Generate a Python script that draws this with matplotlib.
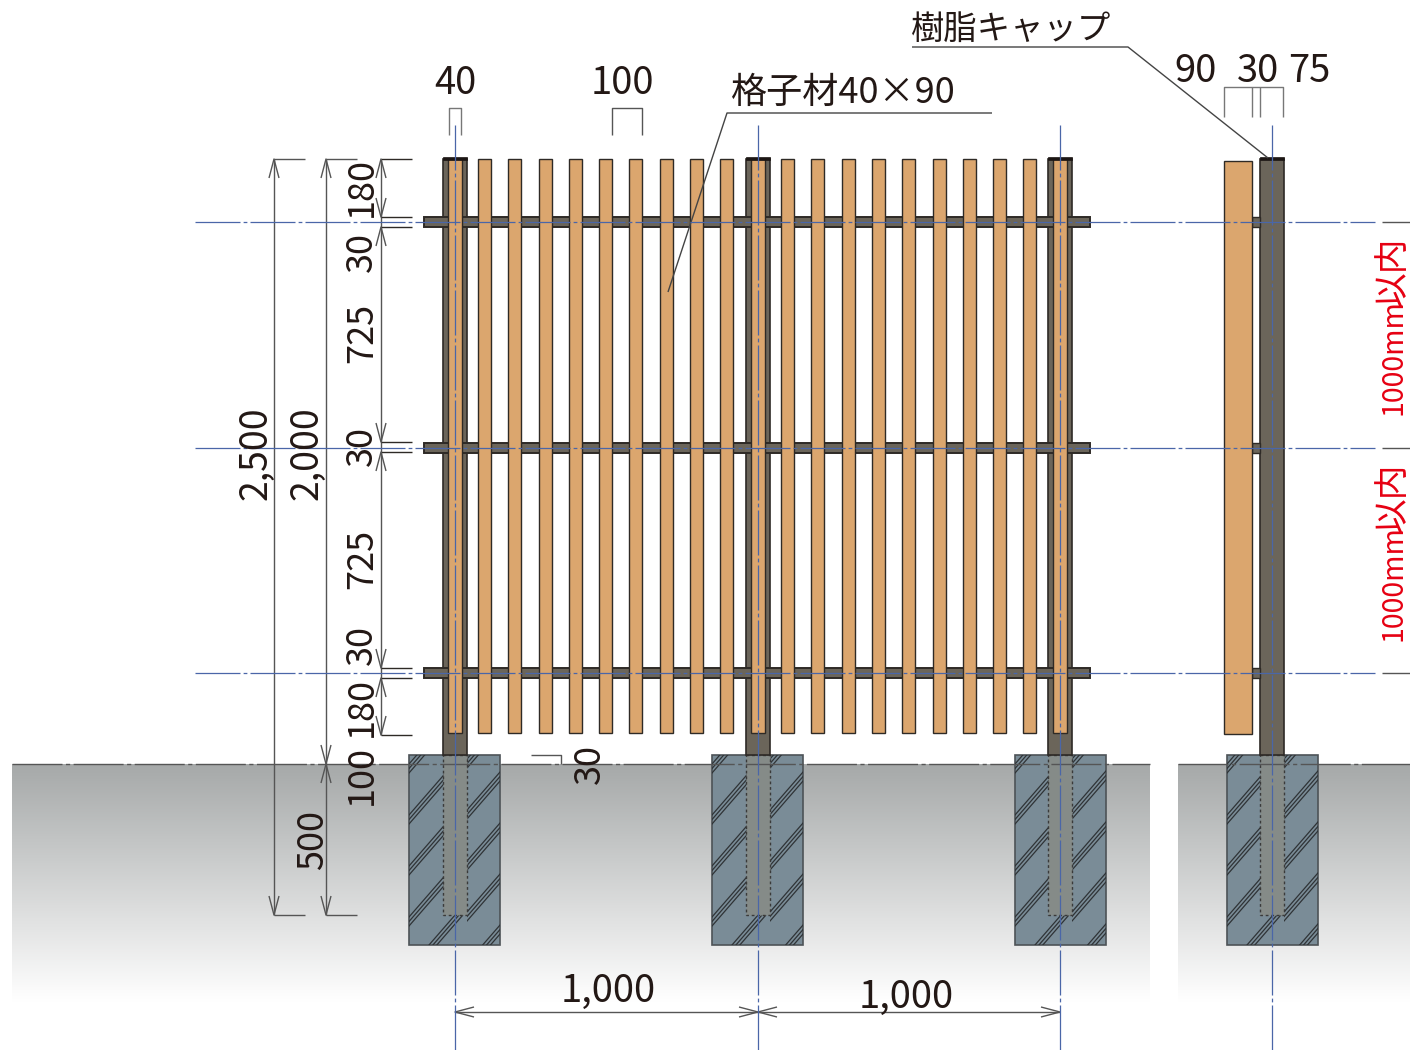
import numpy as np
import matplotlib
matplotlib.use("Agg")
from matplotlib import pyplot as plt
from matplotlib.colors import LinearSegmentedColormap
from matplotlib.patches import Rectangle

plt.rcParams['font.family'] = ['Liberation Sans Narrow', 'Noto Sans CJK JP', 'DejaVu Sans']

# drawing values in pixels
post_centres = [455, 758, 1060]
side_post_centre = 1272
rail_levels = [222, 447.5, 673]
slat_lefts = [478, 508, 539, 569, 599, 629, 660, 690, 720,
              781, 811, 842, 872, 902, 933, 963, 993, 1023]
footing_lefts = [409, 712, 1015, 1227]
tick_levels = [159, 217, 227, 442, 452, 668, 678, 735]
tick_dirs = [-1, 1, -1, 1, -1, 1, -1, 1]
rot_labels = ["180", "30", "725", "30", "725", "30", "180", "100", "2,500", "2,000", "500", "30"]
rot_label_x = [362, 362, 362, 362, 362, 362, 362, 362, 256, 307, 313, 590]
rot_label_y = [187, 252, 333, 446, 559, 645, 707, 775, 453, 453, 840, 764]
rot_label_size = [26, 26, 26, 26, 26, 26, 26, 26, 27, 27, 26, 26]
top_labels = ["40", "100", "90", "30", "75", "1,000", "1,000"]
top_label_x = [455, 622, 1196, 1258, 1309, 608, 906]
top_label_y = [84, 84, 72, 72, 72, 991, 997]

POST = "#6b655a"
DARK = "#2e2a26"
WOOD = "#dba66e"
BLUE = "#4a66a8"
GREY = "#555555"
FOOT = "#7a8c97"
RED = "#e60012"
CHAIN = (36, 2.5, 3, 2.5)

fig = plt.figure(figsize=(14.1, 10.5), dpi=100)
ax = fig.add_axes([0, 0, 1, 1])
ax.set_xlim(0, 1410)
ax.set_ylim(1050, 0)
ax.axis("off")


def box(x0, y0, x1, y1, color, edge=DARK, lw=1.0, z=2, **kw):
    ax.add_patch(Rectangle((x0, y0), x1 - x0, y1 - y0, facecolor=color,
                           edgecolor=edge, linewidth=lw, zorder=z, **kw))


def line(xs, ys, color=GREY, lw=1.0, z=6, **kw):
    ax.plot(xs, ys, color=color, linewidth=lw, zorder=z, solid_capstyle="butt", **kw)


def v_arrow(x, tip, d):
    # d = 1 the body lies above the tip, d = -1 below
    line([x - 5, x, x + 5], [tip - d * 19, tip, tip - d * 19])


def h_arrow(y, tip, d):
    line([tip - d * 19, tip, tip - d * 19], [y - 5, y, y + 5])


def centre_v(x, y0, y1):
    line([x, x], [y0, y1], color=BLUE, lw=0.9, z=9, dashes=CHAIN)


def centre_h(y, x0, x1):
    line([x0, x1], [y, y], color=BLUE, lw=0.9, z=9, dashes=CHAIN)


def hatch(x0, x1, left, intercept, clip):
    # groups of three lines, rising to the right
    for k in range(-3, 8):
        for off in (0, 4.5, 9):
            xs = np.array([x0, x1])
            ys = intercept + 51 * k + off - 1.15 * (xs - left)
            ln, = ax.plot(xs, ys, color="#2f3336", linewidth=0.9, zorder=1.5)
            ln.set_clip_path(clip)


# ground
ramp = LinearSegmentedColormap.from_list("ground", ["#a6a9a9", "#ffffff"])
shade = np.linspace(0, 1, 240).reshape(-1, 1)
for x0, x1 in [(12, 1150), (1178, 1410)]:
    ax.imshow(shade, cmap=ramp, extent=(x0, x1, 1002, 764), aspect="auto", zorder=0)
ax.set_xlim(0, 1410)
ax.set_ylim(1050, 0)

# footings with triple hatch lines
for left, centre in zip(footing_lefts, post_centres + [side_post_centre]):
    r = Rectangle((left, 755), 91, 190, facecolor=FOOT, edgecolor="#4d5357", linewidth=1.2, zorder=1)
    ax.add_patch(r)
    clip_a = Rectangle((left, 755), centre + 12 - left, 190, transform=ax.transData)
    clip_b = Rectangle((centre + 12, 755), left + 91 - centre - 12, 190, transform=ax.transData)
    hatch(left, centre + 12, left, 815, clip_a)
    hatch(centre + 12, left + 91, centre + 12, 810, clip_b)
    box(centre - 12, 755, centre + 12, 915, "#858b88", edge="#3a3a3a", z=1.7,
        lw=1.0, linestyle=(0, (2, 2)))

# posts, rails, caps
for c in post_centres + [side_post_centre]:
    box(c - 12, 159, c + 12, 755, POST, lw=1.2, z=2)
    box(c - 12, 157, c + 12, 160, "#1c1614", edge="#1c1614", lw=0.5, z=5)
for y in rail_levels:
    box(424, y - 5, 1090, y + 5, POST, lw=1.4, z=3)
    box(1252, y - 5, 1260, y + 5, POST, lw=1.0, z=3)

# slats
for left in slat_lefts:
    box(left, 159, left + 13, 733, WOOD, z=4)
for c in post_centres:
    box(c - 7, 159, c + 7, 733, WOOD, z=4)
box(1224, 161, 1252, 734, WOOD, z=4)

# centre lines
for c in post_centres:
    centre_v(c, 125, 1050)
centre_v(1272, 125, 1050)
for y in rail_levels:
    centre_h(y, 195, 1375)
    line([1382, 1410], [y, y], lw=1.0)
line([12, 1150], [764, 764], color="#555555", lw=1.0, z=1.8, dashes=CHAIN)
line([1178, 1410], [764, 764], color="#555555", lw=1.0, z=1.8, dashes=CHAIN)

# vertical dimensions
for x in [274, 326]:
    line([x, x], [159, 915])
    line([x, x + 31], [159, 159])
    line([x, x + 31], [915, 915])
    v_arrow(x, 159, -1)
    v_arrow(x, 915, 1)
v_arrow(326, 764, 1)
v_arrow(326, 764, -1)
line([381, 381], [159, 735])
for y, d in zip(tick_levels, tick_dirs):
    line([381, 412], [y, y], color=DARK)
    v_arrow(381, y, d)

# horizontal dimensions and brackets
line([455, 1060], [1012, 1012])
h_arrow(1012, 455, -1)
h_arrow(1012, 758, 1)
h_arrow(1012, 758, -1)
h_arrow(1012, 1060, 1)
line([449, 449, 461, 461], [135, 108, 108, 135], color="#777777")
line([612, 612, 642, 642], [135, 108, 108, 135], color="#555555")
line([1224, 1224, 1283, 1283], [117, 87, 87, 117], color="#777777")
line([1252, 1252], [87, 117], color="#777777")
line([1260, 1260], [87, 117], color="#777777")
line([531, 561, 561], [755, 755, 764], color="#555555")

# leaders
line([912, 1128, 1268], [47, 47, 158], color="#444444")
line([992, 727, 668], [113, 113, 292], color="#444444")

# text
INK = "#231815"
for s, x, y, size in zip(rot_labels, rot_label_x, rot_label_y, rot_label_size):
    ax.text(x, y, s, rotation=90, ha="center", va="center", fontsize=size, color=INK, zorder=10)
for s, x, y in zip(top_labels, top_label_x, top_label_y):
    ax.text(x, y, s, ha="center", va="center", fontsize=27.5, color=INK, zorder=10)
ax.text(1011, 29, "樹脂キャップ", ha="center", va="center", fontsize=24, color=INK, zorder=10)
ax.text(843, 93, "格子材40×90", ha="center", va="center", fontsize=26, color=INK, zorder=10)
for top in [237, 463]:
    ax.text(1393, top, "以内", rotation=90, ha="center", va="top", fontsize=25, color=RED, zorder=10)
    ax.text(1393, top + 178, "1000mm", rotation=90, ha="center", va="bottom", fontsize=20.5, color=RED, zorder=10)

fig.savefig("out.png", dpi=100)
